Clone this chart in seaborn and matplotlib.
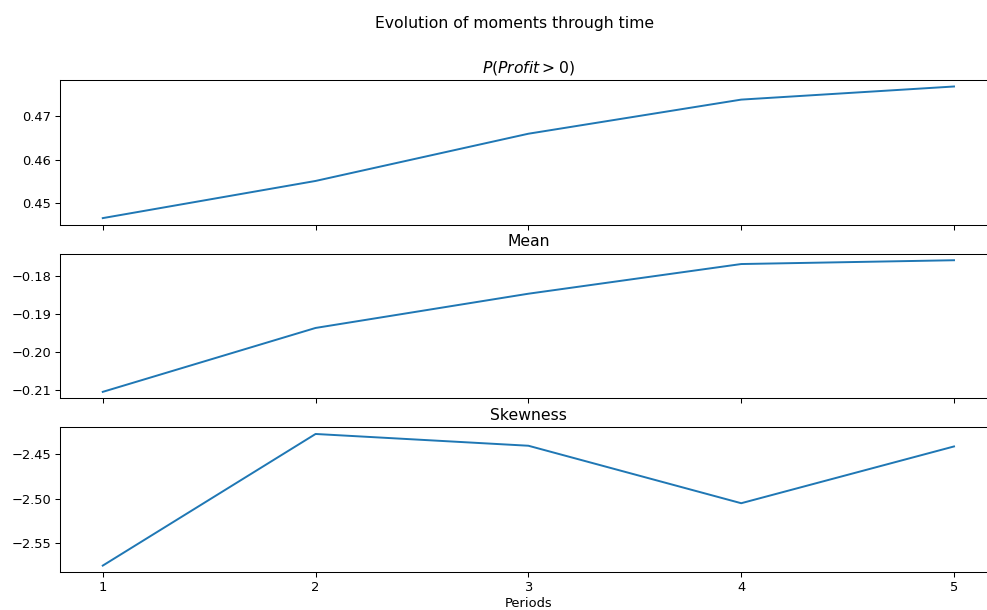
import matplotlib
matplotlib.use("Agg")
import matplotlib.pyplot as plt
import seaborn as sns
import pandas as pd

periods = [1, 2, 3, 4, 5]
prob_profit = [0.4466, 0.4551, 0.4659, 0.4737, 0.4767]
mean_profit = [-0.2104, -0.1936, -0.1846, -0.1768, -0.1758]
skewness = [-2.5752, -2.4275, -2.4407, -2.5052, -2.4415]

titles = ['$P(Profit > 0)$', 'Mean', 'Skewness']
series = [prob_profit, mean_profit, skewness]

dpi = 93.6
fig, axes = plt.subplots(3, 1, figsize=(987 / dpi, 610 / dpi), dpi=dpi, sharex=True)
fig.suptitle('Evolution of moments through time', x=0.521, y=0.974)

for ax, title, vals in zip(axes, titles, series):
  df = pd.DataFrame({'Periods': periods, 'value': vals})
  sns.lineplot(data=df, x='Periods', y='value', ax=ax, color='#1f77b4')
  ax.set_title(title)
  ax.set_ylabel('')
  ax.set_xlabel('')

axes[-1].set_xlabel('Periods', labelpad=2)
axes[-1].set_xticks(periods)
# the original was cropped on the right, so the axes run past the edge
fig.subplots_adjust(left=0.061, right=1.0097, top=0.869, bottom=0.062, hspace=0.2)
fig.savefig('out.png', dpi=dpi)
